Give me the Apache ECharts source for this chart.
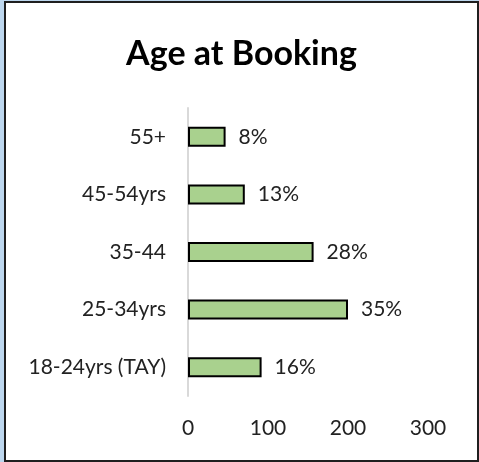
<!DOCTYPE html>
<html>
<head>
<meta charset="utf-8">
<script src="https://cdn.jsdelivr.net/npm/echarts@6/dist/echarts.min.js"></script>
<style>
    html, body { margin: 0; padding: 0; background: #bdd7ee; }
    #wrap { position: relative; width: 479px; height: 462px; background: #bdd7ee; }
    #chart {
        position: absolute; left: 4px; top: 1px;
        width: 475px; height: 461px;
        box-sizing: border-box; border: 2px solid #1f1f1f; background: #fff;
    }
</style>
</head>
<body>
<div id="wrap"><div id="chart"></div></div>
<script>
// Age at Booking - counts per age group, labels show share of total
const categories = ['18-24yrs (TAY)', '25-34yrs', '35-44', '45-54yrs', '55+'];
const counts = [92, 200, 157, 71, 47];
const pctLabels = ['16%', '35%', '28%', '13%', '8%'];
const xTicks = [0, 100, 200, 300];

function initAgeChart() {
    const chartDom = document.getElementById('chart');
    const myChart = echarts.init(chartDom);

    const option = {
        animation: false,
        title: {
            text: 'Age at Booking',
            left: 'center',
            top: 29,
            textStyle: {
                fontSize: 34,
                fontWeight: 'bold',
                color: '#000',
                fontFamily: 'Lato, sans-serif'
            }
        },
        grid: {
            left: 182,
            right: 49,
            top: 105,
            bottom: 64
        },
        xAxis: {
            type: 'value',
            min: xTicks[0],
            max: xTicks[xTicks.length - 1],
            interval: 100,
            splitLine: { show: false },
            axisLine: { show: false },
            axisTick: { show: false },
            axisLabel: {
                color: '#222',
                fontSize: 21,
                margin: 22,
                fontFamily: 'Lato, sans-serif'
            }
        },
        yAxis: {
            type: 'category',
            data: categories,
            axisLine: { show: true, lineStyle: { color: '#d9d9d9', width: 2 } },
            axisTick: { show: false },
            axisLabel: {
                color: '#222',
                fontSize: 21,
                margin: 22,
                fontFamily: 'Lato, sans-serif'
            }
        },
        series: [
            {
                type: 'bar',
                data: counts,
                barWidth: 20,
                itemStyle: {
                    color: '#a9d18e',
                    borderColor: '#000',
                    borderWidth: 2
                },
                label: {
                    show: true,
                    position: 'right',
                    distance: 13,
                    color: '#222',
                    fontSize: 21,
                    fontFamily: 'Lato, sans-serif',
                    formatter: function(p) {
                        return pctLabels[p.dataIndex];
                    }
                }
            }
        ]
    };

    myChart.setOption(option);
    return myChart;
}

initAgeChart();
</script>
</body>
</html>
